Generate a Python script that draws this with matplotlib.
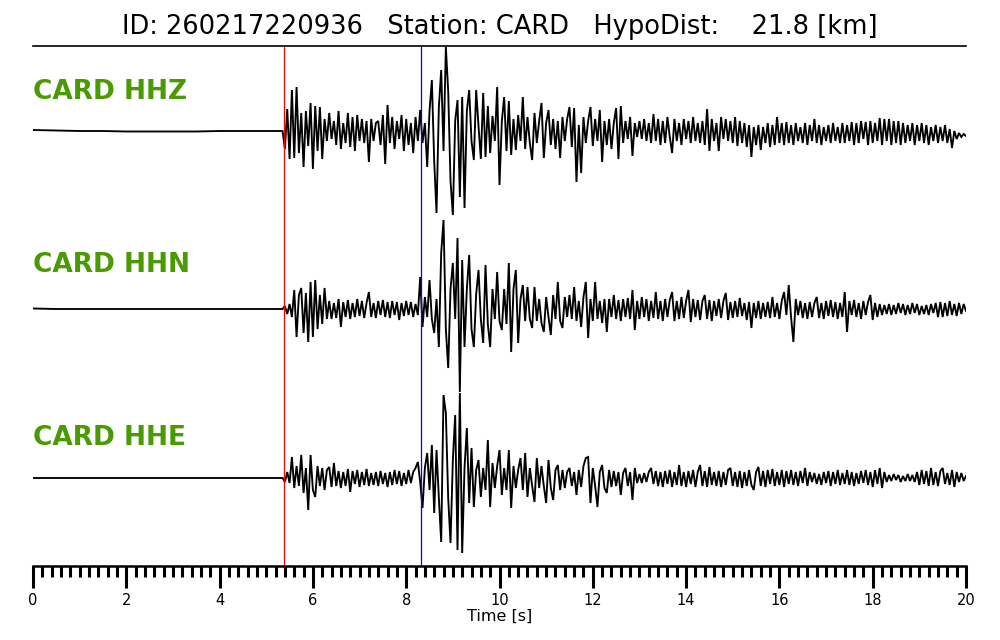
import numpy as np
import matplotlib
matplotlib.use("Agg")
import matplotlib.pyplot as plt

# ---------------- data ----------------
event_id = "260217220936"
station = "CARD"
hypo_dist_km = 21.8
channels = ["HHZ", "HHN", "HHE"]
p_pick = 5.37   # s
s_pick = 8.32   # s

# pre-event samples (every 0.5 s from 0 s) and event samples (every 0.05 s from 5.35 s)
pre_start, pre_dt = 0.0, 0.5
ev_start, ev_dt = 5.35, 0.05

hhz_pre = [1, 0.5, 0, 0, -0.5, -0.5, -0.5, -0.5, 0, 0, 0]
hhz_event = [
    0, -18, 22, -28, 41, -27, 44, -22, 18, -36, 20, -15, 28, -38, 25, -20, 24, -28, 12, -10,
    18, -8, 10, -14, 20, -18, 8, -12, 18, -16, 14, -20, 16, -10, 12, -12, 10, -31, 12, -10,
    8, 10, -14, 16, -33, 26, -12, 14, -18, 10, -8, 16, -20, 12, -14, 8, -22, 14, -10, 21,
    -12, 8, -36, 20, 51, -30, -82, 24, 61, -20, 84, 40, -50, -84, 10, 31, -66, 34, -77, 20,
    41, -10, -29, 41, 5, -28, 38, -26, 25, -22, 15, -10, 44, -54, 10, 34, -20, 30, -24, 12,
    -19, 16, -10, 34, -18, 14, -12, -29, 18, -12, 10, 28, -27, 8, 21, -14, 12, -18, 10, -27,
    14, -10, 12, 24, -16, 23, -51, 6, -42, 14, -12, 10, 24, -15, 12, -10, 21, -31, 10, -14,
    12, -18, 8, 23, -28, 25, -12, 10, -8, 14, -25, 8, -6, 10, -8, 12, -10, 8, -12, 17,
    -10, 12, -14, 10, -12, 14, -6, -22, 12, -10, 8, -14, 12, -8, 10, -12, 14, -10, 8, -12,
    10, -14, 22, -20, 12, -10, 8, -20, 14, -8, 12, -10, 10, -12, 14, -15, 10, -12, 8, -16,
    6, -26, 4, -14, 6, -19, 4, -12, 8, -16, 6, -14, 14, -12, 8, -14, 9, -12, 6, -14,
    8, -10, 4, -12, 8, -14, 6, -10, 12, -12, 6, -14, 4, -10, 6, -12, 8, -10, 4, -12,
    8, -12, 6, -10, 9, -14, 8, -12, 10, -8, 9, -14, 10, -12, 8, -10, 13, -14, 12, -10,
    12, -14, 10, -12, 10, -14, 8, -12, 6, -10, 8, -14, 6, -10, 8, -12, 6, -14, 4, -10,
    6, -12, 4, -10, 6, -12, 2, -17, 0, -8, -2, -6, -3, -5,
]

hhn_pre = [0.5, 0, 0, 0, 0, 0, 0, 0, 0, 0, 0]
hhn_event = [
    0, 3, -5, 5, -8, 19, -28, 14, 21, -24, 16, -33, 27, -28, 29, -20, 14, -15, 21, -10,
    8, -10, 6, -9, 10, -18, 7, -8, 9, -10, 6, -8, 10, -7, 8, -9, 6, 17, -8, 6,
    -9, 8, -6, 9, -8, 7, -9, 8, -6, 7, -11, 6, -7, 8, -6, 7, -8, 5, -6, 32,
    -18, 12, -8, 29, -10, -24, 10, -38, 56, 89, -20, -59, 20, 46, -10, 71, -83, 49, -38, 20,
    54, -20, -38, 15, 39, -10, -34, 44, -15, -38, 20, -10, 37, -12, -21, 20, -15, 46, -43, 20,
    39, -34, 10, 24, -12, 22, -10, -19, 22, -12, 10, -14, -23, 12, -8, -26, 14, -10, 27, -12,
    -19, 12, -8, 14, -10, 22, -12, 8, -18, 12, 27, -29, 10, -12, 27, -10, 8, -14, 10, -23,
    10, -8, 14, -10, 9, -12, 10, -8, 11, -10, 19, -21, 8, -10, 12, -8, 10, -12, 8, -9,
    17, -10, 8, -12, 10, -8, 9, 17, -12, 8, -10, 12, -9, 8, 19, -13, 10, -8, 9, -11,
    8, 14, -10, 9, -12, 8, -7, 10, -9, 8, 16, -11, 7, -9, 8, -8, 11, -7, 6, -11,
    7, -19, 6, -9, 8, -10, 6, -8, 7, -9, 12, -8, 6, -10, 8, 17, -6, 24, -8, -33,
    10, -6, 8, -9, 6, -10, 7, -8, 6, 12, -9, 6, -10, 8, -7, 9, -8, 7, -10, 6,
    -8, 17, -23, 8, -6, 9, -8, 6, -10, 8, -6, 7, 14, -11, 6, -8, 5, -6, 4, -5,
    5, -6, 4, -5, 6, -4, 5, -6, 4, -5, 6, -4, 5, -6, 3, -5, 4, -6, 5, -4,
    6, -8, 7, -8, 6, -7, 8, -6, 5, -7, 6, -5, 5, -2,
]

hhe_pre = [0, 0, 0, 0, 0, 0, 0, 0, 0, 0, 0]
hhe_event = [
    0, -4, 6, -5, 21, -10, 12, -8, 23, -15, 10, -32, 23, -12, -19, 12, -8, 10, -12, 8,
    11, -9, 15, -8, 7, -10, 6, -8, 9, -14, 7, -6, 8, -9, 6, -7, 9, -8, 5, -7,
    6, -8, 7, -6, 5, -9, 6, -7, 8, -6, 7, -8, 5, -6, 8, -5, 6, 10, 16, -4,
    -30, 10, 25, -12, 33, -35, 28, -20, -64, 83, 65, -20, -65, 18, 63, -72, 85, -75, 10, 50,
    -25, 30, -29, 8, 18, -19, 10, -12, 38, -29, 15, -10, 12, 28, -17, 10, -12, 28, -30, 12,
    -10, 8, 20, -12, 25, -19, 10, -8, -24, 20, -10, 12, -8, -25, 18, -10, -22, 8, 13, -12,
    8, -10, 6, 10, -8, 6, -17, 8, -9, 12, 20, 21, -25, 10, -8, -29, 6, 13, -10, -15,
    8, -9, 7, -8, 6, -17, 5, 10, -8, 6, -22, 10, -5, 4, -5, 5, -4, 6, 10, -6,
    7, -8, 6, -9, 7, -6, 8, -9, 6, -7, 13, -8, 6, -9, 7, -6, 8, -9, 6, 13,
    -8, 7, -9, 11, -7, 6, -8, 7, -9, 6, -7, 8, 10, -8, 6, -9, 7, -10, 6, -8,
    8, -7, -12, 6, 11, -8, 7, -9, 8, -6, 9, -8, 6, -7, 8, -9, 7, -6, 8, -7,
    6, -8, 7, -5, 10, -8, 6, -4, 5, -6, 4, -7, 6, -5, 7, -8, 6, -6, 8, -7,
    5, -6, 8, -7, 6, -8, 5, -6, 7, -5, 8, -7, 6, -9, 8, -6, 10, -10, 6, -4,
    3, -3, 4, -2, 3, -4, 2, -3, 4, -3, 3, -4, 6, -7, 8, -6, 7, -8, 10, -7,
    6, -8, 7, 10, -6, 5, -7, 8, -9, 6, -4, 5, -3, 2,
]

pre_series = [hhz_pre, hhn_pre, hhe_pre]
event_series = [hhz_event, hhn_event, hhe_event]

time_ticks = [0, 2, 4, 6, 8, 10, 12, 14, 16, 18, 20]

# ---------------- layout / style ----------------
trace_offsets = [0, -178, -347]
label_y = [39, -134, -307]
label_color = "#4a9a04"

fig = plt.figure(figsize=(10, 6.4), dpi=100)
ax = fig.add_axes([0.033, 1 - 566 / 640, 0.933, (566 - 46) / 640])

for pre, ev, off, ch, ly in zip(pre_series, event_series, trace_offsets, channels, label_y):
    t_pre = pre_start + pre_dt * np.arange(len(pre))
    t_ev = ev_start + ev_dt * np.arange(len(ev))
    t = np.concatenate([t_pre, t_ev])
    y = np.concatenate([np.asarray(pre, float), np.asarray(ev, float)]) + off
    ax.plot(t, y, color="black", lw=1.35, solid_joinstyle="miter")
    ax.text(0, ly, f"{station} {ch}", color=label_color, fontsize=19,
            fontweight="bold", ha="left", va="center")

ax.axvline(p_pick, color="red", lw=0.9)
ax.axvline(s_pick, color="blue", lw=0.9)

ax.set_xlim(0, 20)
ax.set_ylim(-435, 85)
ax.set_yticks([])
for side in ["left", "right"]:
    ax.spines[side].set_visible(False)
ax.spines["top"].set_linewidth(1.2)
ax.spines["bottom"].set_linewidth(1.8)

ax.set_xticks(time_ticks)
ax.set_xticks(np.arange(0, 20.01, 0.2), minor=True)
ax.tick_params(axis="x", which="major", direction="out", length=16, width=2.2,
               labelsize=10.5, pad=3.5)
ax.tick_params(axis="x", which="minor", direction="out", length=8, width=2.2)
ax.set_xlabel("Time [s]", fontsize=11.5, labelpad=0.5)

fig.text(0.5, 1 - 27 / 640,
         f"ID: {event_id}   Station: {station}   HypoDist:    {hypo_dist_km:.1f} [km]",
         ha="center", va="center", fontsize=18.5)

fig.savefig("out.png", dpi=100)
